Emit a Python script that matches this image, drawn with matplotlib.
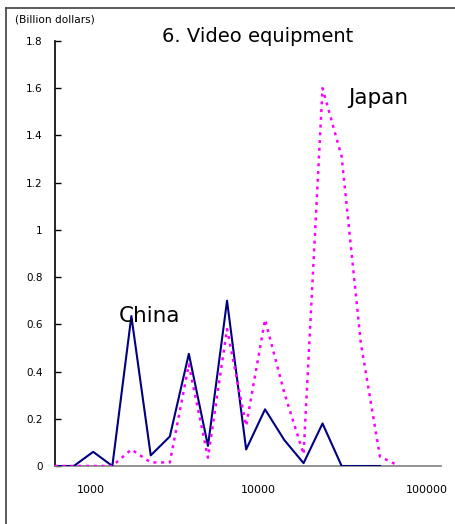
import matplotlib
matplotlib.use("Agg")
import matplotlib.pyplot as plt
from matplotlib.lines import Line2D

# unit value bins (dollars), log spaced
bins = [610, 790, 1030, 1340, 1740, 2270, 2950, 3830, 4980, 6470,
        8410, 10900, 14200, 18500, 24000, 31200, 40600, 52800, 68600]
china = [0, 0, 0.06, 0, 0.635, 0.045, 0.125, 0.475, 0.085, 0.70,
         0.07, 0.24, 0.11, 0.012, 0.18, 0, 0, 0]
japan = [0, 0, 0, 0, 0.07, 0.015, 0.015, 0.43, 0.035, 0.58,
         0.17, 0.62, 0.31, 0.05, 1.6, 1.31, 0.52, 0.04, 0]
yticks = [0, 0.2, 0.4, 0.6, 0.8, 1, 1.2, 1.4, 1.6, 1.8]
ytick_labels = ['0', '0.2', '0.4', '0.6', '0.8', '1', '1.2', '1.4', '1.6', '1.8']
xticks = [1000, 10000, 100000]
xtick_labels = ['1000', '10000', '100000']

plt.rcParams['font.family'] = ['DejaVu Sans']

fig = plt.figure(figsize=(4.55, 5.24), dpi=100)
ax = fig.add_axes([0.1209, 0.1107, 0.8483, 0.8111])

ax.plot(bins[:len(china)], china, color='#000080', lw=1.5, zorder=3)
ax.plot(bins, japan, color='#FF00FF', lw=1.8, linestyle=(0, (1.2, 1.9)), zorder=4)

ax.set_xscale('log')
ax.set_xlim(610, 122000)
ax.set_ylim(0, 1.8)
ax.set_yticks(yticks)
ax.set_yticklabels(ytick_labels)
ax.set_xticks(xticks)
ax.set_xticklabels(xtick_labels)
ax.minorticks_off()
ax.tick_params(axis='y', direction='in', length=4, width=1, pad=9, labelsize=7.5)
ax.tick_params(axis='x', length=0, pad=14, labelsize=8)

for s in ['top', 'right']:
    ax.spines[s].set_visible(False)
ax.spines['left'].set_linewidth(1.2)
ax.spines['bottom'].set_color('#808080')
ax.spines['bottom'].set_linewidth(1.2)

fig.text(258 / 455, 1 - 37 / 524, '6. Video equipment', ha='center', va='center', fontsize=14)
fig.text(15 / 455, 1 - 19 / 524, '(Billion dollars)', ha='left', va='center', fontsize=7.6)
fig.text(149 / 455, 1 - 316 / 524, 'China', ha='center', va='center', fontsize=15.5)
fig.text(378 / 455, 1 - 98 / 524, 'Japan', ha='center', va='center', fontsize=15.5)

# outer frame (left and top edges)
fig.add_artist(Line2D([6 / 455, 6 / 455], [0, 1 - 8 / 524], color='#404040', lw=1.2,
                      transform=fig.transFigure))
fig.add_artist(Line2D([6 / 455, 1], [1 - 8 / 524, 1 - 8 / 524], color='#404040', lw=1.2,
                      transform=fig.transFigure))

fig.savefig('out.png', dpi=100)
